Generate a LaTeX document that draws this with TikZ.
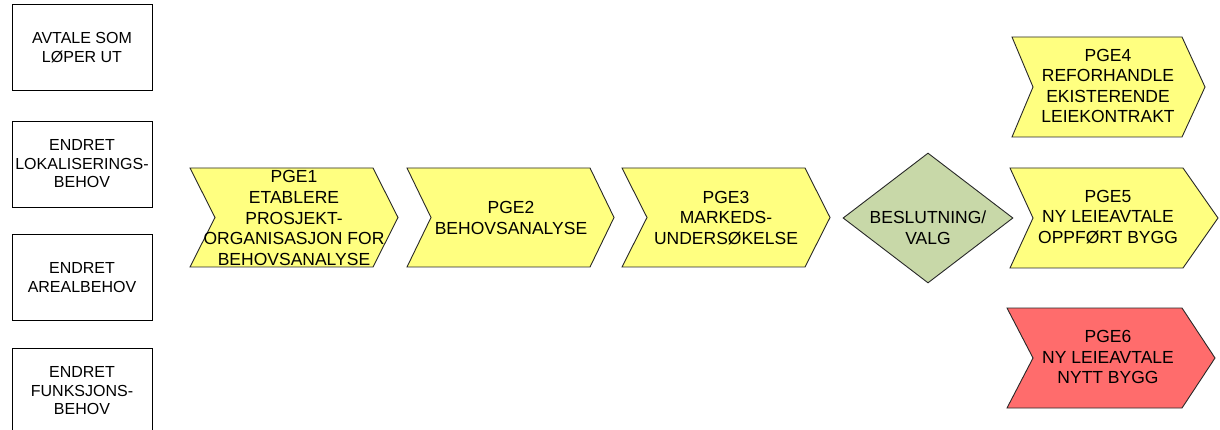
\documentclass[tikz,border=0pt]{standalone}
\usepackage{fontspec}
\setmainfont{Liberation Sans}
\usetikzlibrary{shapes.geometric}

\definecolor{stepyellow}{RGB}{255,255,128}
\definecolor{stepred}{RGB}{255,108,108}
\definecolor{decisiongreen}{RGB}{200,216,168}
\definecolor{edgegray}{RGB}{40,40,40}

\tikzset{
  trigger/.style={draw=black, line width=0.9pt, fill=white,
    minimum width=140pt, minimum height=86pt, inner sep=0pt,
    align=center, font=\fontsize{16}{18.5}\selectfont},
  chevshape/.style={draw=edgegray, line width=0.9pt, line join=miter},
  chevtext/.style={align=center, inner sep=0pt,
    font=\fontsize{17.5}{20.6}\selectfont},
  decision/.style={diamond, draw=edgegray, line width=0.9pt,
    fill=decisiongreen, minimum width=170pt, minimum height=130pt,
    inner sep=0pt, aspect=1.3077}
}

% chevron: #1 fill, #2 left x, #3 notch x, #4 shoulder x, #5 tip x,
% #6 top y, #7 bottom y
\newcommand\chevronpath[7]{%
  \path[chevshape, fill=#1]
    (#2,#6) -- (#4,#6) -- (#5,{(#6+#7)/2}) -- (#4,#7) -- (#2,#7)
    -- (#3,{(#6+#7)/2}) -- cycle;}

\begin{document}
\begin{tikzpicture}[x=1pt, y=-1pt]
\useasboundingbox (0,0) rectangle (1220,430);

% triggers on the left
\node[trigger] (t1) at (82,47.5) {AVTALE SOM\\LØPER UT};
\node[trigger] (t2) at (82,164) {ENDRET\\LOKALISERINGS-\\BEHOV};
\node[trigger] (t3) at (82,277.5) {ENDRET\\AREALBEHOV};
\node[trigger] (t4) at (82,391) {ENDRET\\FUNKSJONS-\\BEHOV};

% process chain
\chevronpath{stepyellow}{190}{215}{373}{398}{168}{267}
\node[chevtext] (p1) at (294,218) {PGE1\\ETABLERE\\PROSJEKT-\\ORGANISASJON FOR\\BEHOVSANALYSE};

\chevronpath{stepyellow}{407}{431}{590}{614}{168}{267}
\node[chevtext] (p2) at (511,218) {PGE2\\BEHOVSANALYSE};

\chevronpath{stepyellow}{622}{647}{805}{830}{168}{267}
\node[chevtext] (p3) at (726,218) {PGE3\\MARKEDS-\\UNDERSØKELSE};

\node[decision] (d) at (928,218) {};
\node[chevtext] (dtext) at (928,228) {BESLUTNING/\\VALG};

% outcomes
\chevronpath{stepyellow}{1012}{1033}{1182}{1205}{37}{137}
\node[chevtext] (p4) at (1108,86) {PGE4\\REFORHANDLE\\EKISTERENDE\\LEIEKONTRAKT};

\chevronpath{stepyellow}{1010}{1033}{1183}{1218}{168}{268}
\node[chevtext] (p5) at (1108,217) {PGE5\\NY LEIEAVTALE\\OPPFØRT BYGG};

\chevronpath{stepred}{1007}{1033}{1182}{1215}{308}{408}
\node[chevtext] (p6) at (1108,357) {PGE6\\NY LEIEAVTALE\\NYTT BYGG};
\end{tikzpicture}
\end{document}
